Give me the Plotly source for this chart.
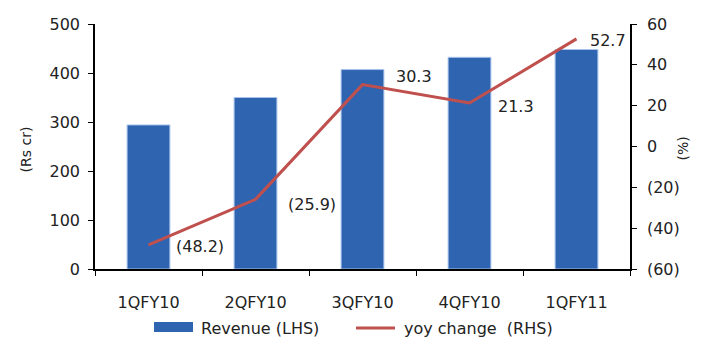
import plotly.graph_objects as go

quarters = ["1QFY10", "2QFY10", "3QFY10", "4QFY10", "1QFY11"]
revenue = [294, 350, 407, 432, 448]
yoy_change = [-48.2, -25.9, 30.3, 21.3, 52.7]

left_ticks = [0, 100, 200, 300, 400, 500]
right_ticks = [-60, -40, -20, 0, 20, 40, 60]

# pixel offsets of each yoy label from its point
label_dx = [25, 30, 31, 26, 11]
label_dy = [-2, -5, 8, -3, -2]

BAR_COLOR = "#2F64B1"
LINE_COLOR = "#C0504D"
FONT = "DejaVu Sans"
TXT = "#222222"

# plot area in pixels
L, R, T, B = 95, 630, 24, 269
W, H = R - L, B - T


def fmt_pct(v):
    return f"({abs(v):g})" if v < 0 else f"{v:g}"


def fmt_label(v):
    return f"({abs(v):.1f})" if v < 0 else f"{v:.1f}"


def px(x):
    return (x - L) / W


def py(y):
    return (B - y) / H


fig = go.Figure()
fig.add_trace(go.Bar(
    x=quarters, y=revenue, name="Revenue (LHS)",
    marker=dict(color=BAR_COLOR, line=dict(color="#A9C4EB", width=1)),
    width=0.4, yaxis="y", showlegend=False,
))
fig.add_trace(go.Scatter(
    x=quarters, y=yoy_change, name="yoy change  (RHS)", mode="lines",
    line=dict(color=LINE_COLOR, width=3), yaxis="y2", showlegend=False,
))

annotations = []
for q, v, dx, dy in zip(quarters, yoy_change, label_dx, label_dy):
    annotations.append(dict(
        x=q, y=v, xref="x", yref="y2", text=fmt_label(v), showarrow=False,
        xanchor="left", yanchor="middle", xshift=dx, yshift=dy,
        font=dict(size=16, color=TXT, family=FONT),
    ))

# axis titles
annotations.append(dict(x=0, y=0.5, xref="paper", yref="paper", text="(Rs cr)",
                        textangle=-90, showarrow=False, xshift=-80, yshift=-3,
                        font=dict(size=14, color=TXT, family=FONT)))
annotations.append(dict(x=1, y=0.5, xref="paper", yref="paper", text="(%)",
                        textangle=-90, showarrow=False, xshift=62, yshift=-2,
                        font=dict(size=14, color=TXT, family=FONT)))

# legend
annotations.append(dict(x=px(199), y=py(328), xref="paper", yref="paper",
                        text="Revenue (LHS)", showarrow=False, xanchor="left",
                        yanchor="middle", font=dict(size=16, color=TXT, family=FONT)))
annotations.append(dict(x=px(402), y=py(328), xref="paper", yref="paper",
                        text="yoy change\u00a0 (RHS)", showarrow=False, xanchor="left",
                        yanchor="middle", font=dict(size=16, color=TXT, family=FONT)))

shapes = [
    dict(type="rect", xref="paper", yref="paper", x0=px(154), x1=px(193),
         y0=py(332), y1=py(322), fillcolor=BAR_COLOR, line=dict(width=0)),
    dict(type="line", xref="paper", yref="paper", x0=px(356), x1=px(395),
         y0=py(328), y1=py(328), line=dict(color=LINE_COLOR, width=3)),
]

fig.update_layout(
    width=702, height=338,
    margin=dict(l=L, r=702 - R, t=T, b=338 - B, autoexpand=False),
    paper_bgcolor="white", plot_bgcolor="white",
    font=dict(family=FONT, size=16, color=TXT),
    showlegend=False,
    annotations=annotations, shapes=shapes,
    xaxis=dict(showline=True, linecolor="black", linewidth=1.5, ticks="outside",
               tickson="boundaries", ticklen=5, tickcolor="black", showgrid=False,
               tickfont=dict(size=16), ticklabelstandoff=18),
    yaxis=dict(range=[0, 500], tickvals=left_ticks, showline=True, linecolor="black",
               linewidth=1.5, ticks="outside", ticklen=5, tickcolor="black",
               showgrid=False, zeroline=False, ticklabelstandoff=5,
               tickfont=dict(size=16)),
    yaxis2=dict(range=[-60, 60], overlaying="y", side="right",
                tickvals=right_ticks, ticktext=[fmt_pct(v) for v in right_ticks],
                showline=True, linecolor="black", linewidth=1.5, ticks="outside",
                ticklen=5, tickcolor="black", showgrid=False, zeroline=False,
                ticklabelstandoff=7, tickfont=dict(size=16)),
    bargap=0.6,
)

fig.write_html("out.html")
